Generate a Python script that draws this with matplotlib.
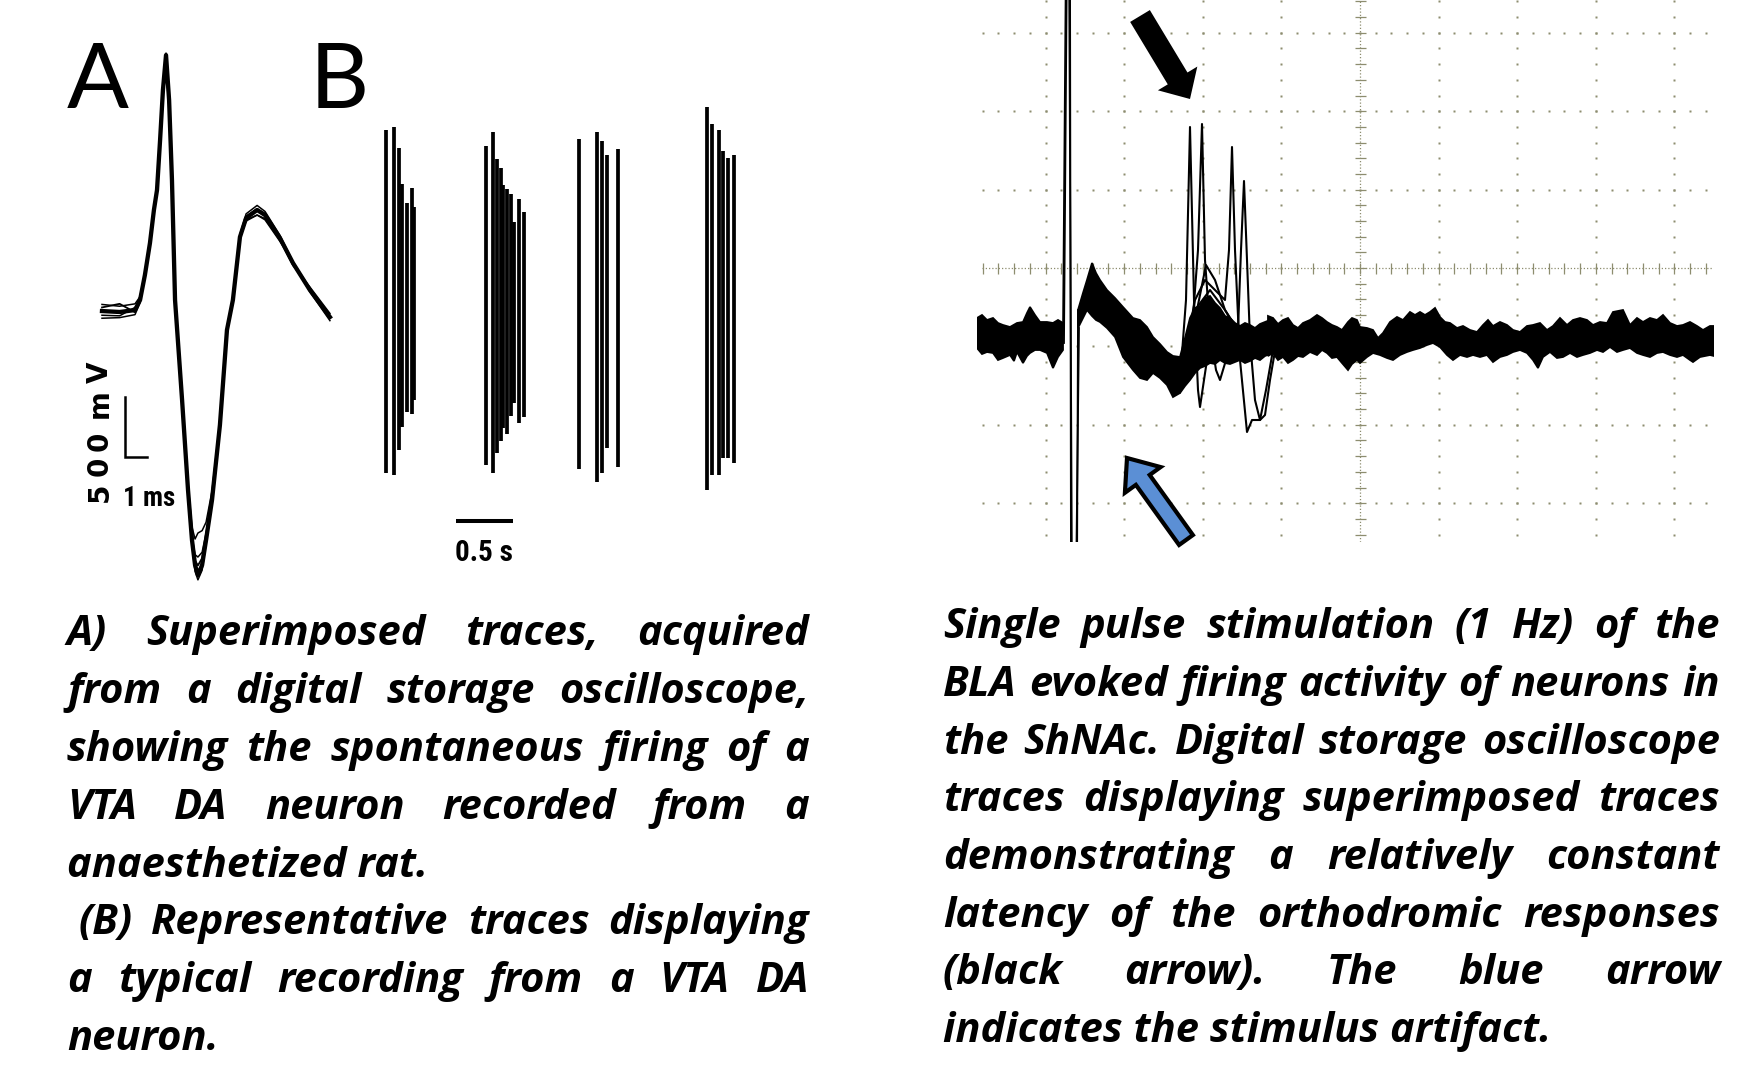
import numpy as np
import matplotlib
matplotlib.use("Agg")
import matplotlib.pyplot as plt
from matplotlib import font_manager as fm
from matplotlib.font_manager import FontProperties
from matplotlib.patches import FancyArrow

# ======================= DATA =======================
# Panel A: superimposed spike waveforms (time in ms, voltage in mV)
spike_t = [0, 0.8, 1.5, 1.73, 1.95, 2.18, 2.36, 2.5, 2.64, 2.77, 2.91, 3.05, 3.18, 3.32,
           3.64, 3.91, 4.09, 4.23, 4.36, 4.55, 4.73, 5.0, 5.36, 5.68, 5.95, 6.27, 6.55,
           7.05, 7.41, 8.09, 8.68, 9.45, 10.36]
spike_v1 = [0, -8, 8, 92, 300, 567, 842, 1008, 1425, 1842, 2133, 1758, 1092, 92, -742, -1492,
            -1908, -2117, -2200, -2117, -1908, -1575, -950, -158, 92, 617, 775, 842, 800, 608,
            400, 175, -50]
spike_v2 = [55, 40, 60, 120, 320, 590, 860, 1030, 1450, 1870, 2150, 1780, 1110, 110, -760,
            -1520, -1950, -2170, -2240, -2160, -1940, -1600, -960, -170, 80, 640, 810, 880,
            830, 630, 410, 160, -80]
spike_v3 = [-60, -55, -30, 70, 280, 540, 810, 980, 1390, 1790, 2050, 1700, 1060, 70, -720,
            -1440, -1800, -1900, -1850, -1830, -1760, -1500, -920, -140, 110, 600, 760, 800,
            770, 590, 380, 200, -20]
spike_v4 = [30, 60, -10, 100, 310, 575, 850, 1000, 1410, 1820, 2100, 1740, 1080, 80, -750,
            -1500, -1930, -2080, -2120, -2060, -1880, -1560, -940, -165, 95, 625, 790, 850,
            810, 600, 390, 170, -40]
spike_v5 = [-35, -40, 30, 85, 290, 560, 830, 995, 1400, 1800, 2000, 1690, 1070, 85, -735,
            -1480, -1880, -2030, -2050, -2010, -1850, -1545, -930, -150, 100, 605, 750, 800,
            760, 580, 410, 190, -60]
scale_ms = 1.0
scale_mv = 500
label_mv = "500 mV"
label_ms = "1 ms"

# Panel B: bursting spike train (time in s, spike top / bottom in a.u.)
burst_t = [0.000, 0.071, 0.117, 0.141, 0.185, 0.227, 0.250,
           0.885, 0.942, 0.983, 1.015, 1.036, 1.068, 1.103, 1.132, 1.171, 1.218,
           1.701, 1.860, 1.909, 1.951, 2.048,
           2.831, 2.875, 2.942, 2.972, 3.021, 3.074]
burst_top = [170, 173, 152, 116, 97, 112, 93,
             154, 168, 141, 132, 115, 111, 106, 78, 101, 88,
             161, 168, 159, 145, 151,
             193, 176, 170, 149, 142, 145]
burst_bot = [-173, -175, -150, -127, -112, -114, -100,
             -165, -173, -153, -141, -128, -134, -116, -103, -123, -117,
             -169, -182, -173, -148, -167,
             -190, -175, -175, -158, -158, -163]
scale_s = 0.5
label_s = "0.5 s"

# Panel C: oscilloscope traces (time / voltage in screen units, 78.5 units = 1 division)
pre_up_t = [-383, -378, -373, -367, -362, -357, -350, -343, -337, -333, -330, -325, -320, -313,
            -307, -302, -297]
pre_up = [-50, -47, -52, -50, -55, -57, -59, -55, -54, -45, -39, -47, -54, -54, -55, -52, -55]
pre_lo_t = [-383, -378, -373, -367, -362, -357, -350, -346, -343, -337, -333, -330, -325, -320,
            -313, -307, -302, -297]
pre_lo = [-80, -86, -84, -85, -92, -90, -87, -93, -84, -95, -88, -85, -82, -82, -85, -100, -89,
          -82]

art1_t = [-297, -294, -290, -289, -283, -282]
art1_v = [-67, 320, 320, -320, -320, -42]
art2_t = [-296, -293, -291, -288, -284, -281]
art2_v = [-75, 320, 320, -320, -320, -60]

resp_t = [-282, -277, -273, -268, -264, -260, -253, -245, -237, -227, -220, -213, -207, -200,
          -193, -187, -180]
resp_up = [-42, -25, -12, 5, -5, -12, -22, -30, -39, -50, -52, -59, -69, -76, -84, -88, -89]
resp_lo = [-60, -50, -42, -48, -52, -54, -60, -69, -89, -102, -110, -112, -105, -110, -117,
           -129, -125]

ev_t = [-180, -175, -170, -165, -160, -155, -150, -145, -140, -135, -130, -125, -120, -115,
        -110, -105, -100, -95, -90, -87]
ev_up = [-89, -70, -50, -40, -38, -30, -28, -35, -40, -48, -50, -55, -58, -55, -57, -60, -56,
         -54, -52, -50]
ev_lo = [-125, -118, -112, -105, -100, -98, -95, -96, -92, -95, -96, -94, -92, -95, -93, -90,
         -92, -88, -86, -85]

tr_a_t = [-180, -174, -170, -166, -162, -160, -156, -150, -140, -120, -100, -85]
tr_a_v = [-112, -32, 141, -32, -122, -139, -112, -72, -62, -67, -72, -67]
tr_b_t = [-180, -168, -162, -158, -155, -150, -144, -140, -134, -125, -110, -85]
tr_b_v = [-117, -62, 18, 144, 8, -62, -102, -112, -92, -72, -70, -72]
tr_c_t = [-180, -165, -155, -145, -135, -131, -128, -125, -120, -113, -108, -100, -94, -87, -80]
tr_c_v = [-112, -32, -12, -22, -32, 18, 121, 18, -92, -164, -152, -152, -122, -82, -67]
tr_d_t = [-180, -165, -150, -135, -122, -119, -116, -113, -110, -105, -100, -95, -90, -84]
tr_d_v = [-117, -42, -22, -42, -62, 18, 87, 8, -72, -132, -152, -147, -112, -77]
tr_e_t = [-180, -165, -154, -145, -135, -120, -100]
tr_e_v = [-122, -52, 3, -12, -42, -67, -72]
tr_f_t = [-180, -160, -140, -120, -100]
tr_f_v = [-120, -82, -72, -67, -72]

post_up_t = [-92, -87, -82, -77, -72, -67, -62, -57, -50, -43, -38, -33, -28, -23, -18, -12, -8,
             -3, 0, 7, 13, 18, 23, 30, 37, 43, 50, 55, 60, 65, 70, 75, 80, 85, 90, 97, 103, 110,
             117, 123, 128, 133, 140, 147, 153, 160, 167, 173, 180, 187, 193, 200, 207, 213,
             220, 227, 233, 240, 247, 253, 263, 270, 277, 283, 290, 297, 303, 310, 317, 323,
             330, 337, 343, 350, 354]
post_up = [-48, -50, -56, -52, -50, -57, -60, -55, -52, -47, -50, -54, -57, -59, -62, -54, -50,
           -52, -59, -60, -62, -70, -65, -54, -49, -52, -44, -47, -44, -47, -44, -40, -49, -54,
           -55, -60, -58, -62, -64, -57, -52, -58, -54, -57, -62, -64, -58, -57, -55, -62, -58,
           -50, -57, -52, -50, -52, -57, -54, -55, -44, -42, -57, -50, -54, -50, -52, -47, -55,
           -58, -57, -54, -58, -62, -58, -58]
post_lo_t = [-92, -87, -82, -77, -72, -67, -62, -57, -50, -43, -38, -33, -28, -23, -18, -12, -8,
             -3, 0, 7, 13, 20, 27, 33, 40, 47, 53, 60, 67, 73, 80, 87, 93, 100, 107, 113, 120,
             127, 133, 140, 147, 153, 160, 167, 173, 178, 183, 190, 197, 203, 210, 217, 223,
             230, 237, 243, 250, 257, 263, 270, 277, 283, 290, 297, 303, 310, 317, 323, 330,
             333, 340, 350, 354]
post_lo = [-88, -85, -92, -89, -95, -92, -88, -89, -84, -87, -82, -85, -90, -89, -95, -102, -96,
           -92, -95, -89, -85, -87, -90, -92, -87, -84, -82, -80, -77, -75, -79, -87, -92, -87,
           -89, -87, -89, -87, -94, -89, -87, -84, -82, -85, -92, -100, -89, -84, -90, -89, -85,
           -89, -87, -85, -82, -84, -79, -84, -82, -80, -85, -87, -89, -85, -84, -87, -89, -87,
           -92, -94, -89, -87, -88]

# Captions
left_lines = ["A) Superimposed traces, acquired",
              "from a digital storage oscilloscope,",
              "showing the spontaneous firing of a",
              "VTA DA neuron recorded from a",
              "anaesthetized rat.",
              "(B) Representative traces displaying",
              "a typical recording from a VTA DA",
              "neuron."]
left_justify = [True, True, True, True, False, True, True, False]
right_lines = ["Single pulse stimulation (1 Hz) of the",
               "BLA evoked firing activity of neurons in",
               "the ShNAc. Digital storage oscilloscope",
               "traces displaying superimposed traces",
               "demonstrating a relatively constant",
               "latency of the orthodromic responses",
               "(black arrow). The blue arrow",
               "indicates the stimulus artifact."]
right_justify = [True, True, True, True, True, True, True, False]

# ======================= LAYOUT =======================
W, H = 1745, 1072
fig = plt.figure(figsize=(W / 100, H / 100), dpi=100, facecolor="white")
r = fig.canvas.get_renderer()


def box(x0, y0, x1, y1):
    return [x0 / W, 1 - y1 / H, (x1 - x0) / W, (y1 - y0) / H]


def pick(families, **kw):
    for f in families:
        try:
            fm.findfont(FontProperties(family=f, **kw), fallback_to_default=False)
            return f
        except Exception:
            pass
    return "DejaVu Sans"


names = sorted({f.name for f in fm.fontManager.ttflist})
narrow_names = [n for n in names if ("Narrow" in n or "Condensed" in n)]
pref = ["Liberation Sans Narrow", "Roboto Condensed", "Open Sans Condensed",
        "DejaVu Sans Condensed"]
narrow_font = next((n for n in pref if n in names), None) or \
    (narrow_names[0] if narrow_names else "Liberation Sans")

body_font = pick(["Open Sans", "Lato", "Liberation Sans"], style="italic", weight="bold")
label_font = pick(["Lato", "Open Sans", "Liberation Sans"])


def fit_text_size(s, target_w, max_size, **kw):
    t = fig.text(0, 0, s, fontsize=20, **kw)
    w = t.get_window_extent(renderer=r).width
    t.remove()
    return min(max_size, 20 * target_w / w)


# ---------- Panel A ----------
axA = fig.add_axes(box(60, 30, 360, 600))
axA.set_xlim(-1.909, 11.727)
axA.set_ylim(-2408, 2342)
axA.set_axis_off()
for v, lw in [(spike_v3, 1.1), (spike_v5, 1.1), (spike_v4, 1.3), (spike_v2, 1.1), (spike_v1, 3.1)]:
    axA.plot(spike_t, v, color="black", lw=lw, solid_joinstyle="round")
sb_t0, sb_v0 = 1.045, -1217
axA.plot([sb_t0, sb_t0, sb_t0 + scale_ms], [sb_v0 + scale_mv, sb_v0, sb_v0],
         color="black", lw=1.8, solid_joinstyle="miter")
mv_pos = [-1514, -1297, -1089, None, -769, -506]
for ch, vy in zip(label_mv, mv_pos):
    if vy is None:
        continue
    axA.text(-0.09, vy, ch, rotation=90, ha="center", va="center", fontsize=20,
             fontweight="bold", family="DejaVu Sans")
ms_size = fit_text_size(label_ms, 52, 26, family=narrow_font, weight="bold")
axA.text(2.14, -1562, label_ms, ha="center", va="center", fontsize=ms_size,
         family=narrow_font, weight="bold")

# ---------- Panel B ----------
axB = fig.add_axes(box(370, 90, 760, 600))
axB.set_xlim(-0.141, 3.301)
axB.set_ylim(-300, 210)
axB.set_axis_off()
axB.vlines(burst_t, burst_bot, burst_top, color="black", lw=2.7)
axB.plot([0.618, 0.618 + scale_s], [-221, -221], color="black", lw=2.9, solid_capstyle="butt")
s_size = fit_text_size(label_s, 58, 28, family=narrow_font, weight="bold")
axB.text(0.868, -253, label_s, ha="center", va="center", fontsize=s_size, family=narrow_font,
         weight="bold")

# ---------- Panel C (oscilloscope) ----------
axC = fig.add_axes(box(977, 0, 1714, 542))
axC.set_xlim(-383, 354)
axC.set_ylim(-274, 268)
axC.set_axis_off()
gcol = "#8d8d6f"
DT, DV = 78.6, 78.4
sub_t = np.arange(-24, 23) * DT / 5
sub_t = sub_t[(sub_t >= -381) & (sub_t <= 352)]
sub_v = np.arange(-17, 18) * DV / 5
sub_v = sub_v[(sub_v >= -274) & (sub_v <= 268)]
for k in [-3, -2, -1, 1, 2, 3]:
    axC.plot(sub_t, np.full_like(sub_t, k * DV), ls="none", marker="s", ms=1.6, color=gcol,
             mec="none", zorder=1)
for k in [-4, -3, -2, -1, 1, 2, 3, 4]:
    if -383 < k * DT < 354:
        axC.plot(np.full_like(sub_v, k * DT), sub_v, ls="none", marker="s", ms=1.6, color=gcol,
                 mec="none", zorder=1)
axC.plot([-378, 352], [0, 0], color=gcol, lw=0.9, ls=(0, (1, 1.6)), zorder=1)
axC.plot([0, 0], [-274, 268], color=gcol, lw=0.9, ls=(0, (1, 1.6)), zorder=1)
axC.vlines(sub_t, -5.5, 5.5, color=gcol, lw=0.9, zorder=1)
axC.hlines(sub_v, -5.5, 5.5, color=gcol, lw=0.9, zorder=1)


def band(tu, vu, tl, vl):
    xs = list(tu) + list(tl)[::-1]
    ys = list(vu) + list(vl)[::-1]
    axC.fill(xs, ys, facecolor="black", edgecolor="black", lw=1.3, zorder=3,
             joinstyle="miter")


tk = dict(color="black", zorder=3)
band(pre_up_t, pre_up, pre_lo_t, pre_lo)
axC.plot(art1_t, art1_v, lw=1.3, **tk)
axC.plot(art2_t, art2_v, lw=1.3, **tk)
band(resp_t, resp_up, resp_t, resp_lo)
band(ev_t, ev_up, ev_t, ev_lo)
for tt, vv in [(tr_a_t, tr_a_v), (tr_b_t, tr_b_v), (tr_c_t, tr_c_v), (tr_d_t, tr_d_v),
               (tr_e_t, tr_e_v), (tr_f_t, tr_f_v)]:
    axC.plot(tt, vv, lw=1.5, **tk)
band(post_up_t, post_up, post_lo_t, post_lo)

# arrows (annotations)
axC.add_patch(FancyArrow(-220, 252, 50, -83, width=23, head_width=46, head_length=24,
                         length_includes_head=True, facecolor="black", edgecolor="black",
                         lw=0, zorder=5, clip_on=False))
axC.add_patch(FancyArrow(-174, -272, -59, 82, width=17, head_width=44, head_length=27,
                         length_includes_head=True, facecolor="#5b8fd5", edgecolor="black",
                         lw=3.0, joinstyle="miter", zorder=5, clip_on=False))

# ---------- Panel labels ----------
fig.text(67 / W, 1 - 108 / H, "A", fontsize=66, family=label_font, ha="left", va="baseline")
fig.text(310 / W, 1 - 108 / H, "B", fontsize=66, family=label_font, ha="left", va="baseline")

# ---------- Captions (justified) ----------
txt_kw = dict(family=body_font, style="italic", weight="bold", va="baseline", ha="left",
              color="black")


def fit_size(lines, justify, x0s, x1, base):
    s = 99
    for line, j, x0 in zip(lines, justify, x0s):
        if not j:
            continue
        t = fig.text(0, 0, line, fontsize=base, **txt_kw)
        w = t.get_window_extent(renderer=r).width
        t.remove()
        s = min(s, base * (x1 - x0) / w * 0.99)
    return s


def paragraph(lines, justify, x0s, x1, baselines, size):
    for line, j, x0, yb in zip(lines, justify, x0s, baselines):
        words = line.split(" ")
        if j and len(words) > 1:
            arts = [fig.text(0, 1 - yb / H, w, fontsize=size, **txt_kw) for w in words]
            ws = [a.get_window_extent(renderer=r).width for a in arts]
            gap = (x1 - x0 - sum(ws)) / (len(words) - 1)
            x = x0
            for a, w in zip(arts, ws):
                a.set_x(x / W)
                x += w + gap
        else:
            fig.text(x0 / W, 1 - yb / H, line, fontsize=size, **txt_kw)


left_x0 = [67, 67, 67, 67, 67, 78, 67, 67]
left_base = [645, 703, 761, 819, 877, 934, 992, 1050]
right_x0 = [943] * 8
right_base = [638, 696, 754, 811, 869, 927, 984, 1042]
size = min(fit_size(left_lines, left_justify, left_x0, 809, 26),
           fit_size(right_lines, right_justify, right_x0, 1720, 26), 30)
paragraph(left_lines, left_justify, left_x0, 809, left_base, size)
paragraph(right_lines, right_justify, right_x0, 1720, right_base, size)

fig.savefig("out.png", dpi=100, facecolor="white")
